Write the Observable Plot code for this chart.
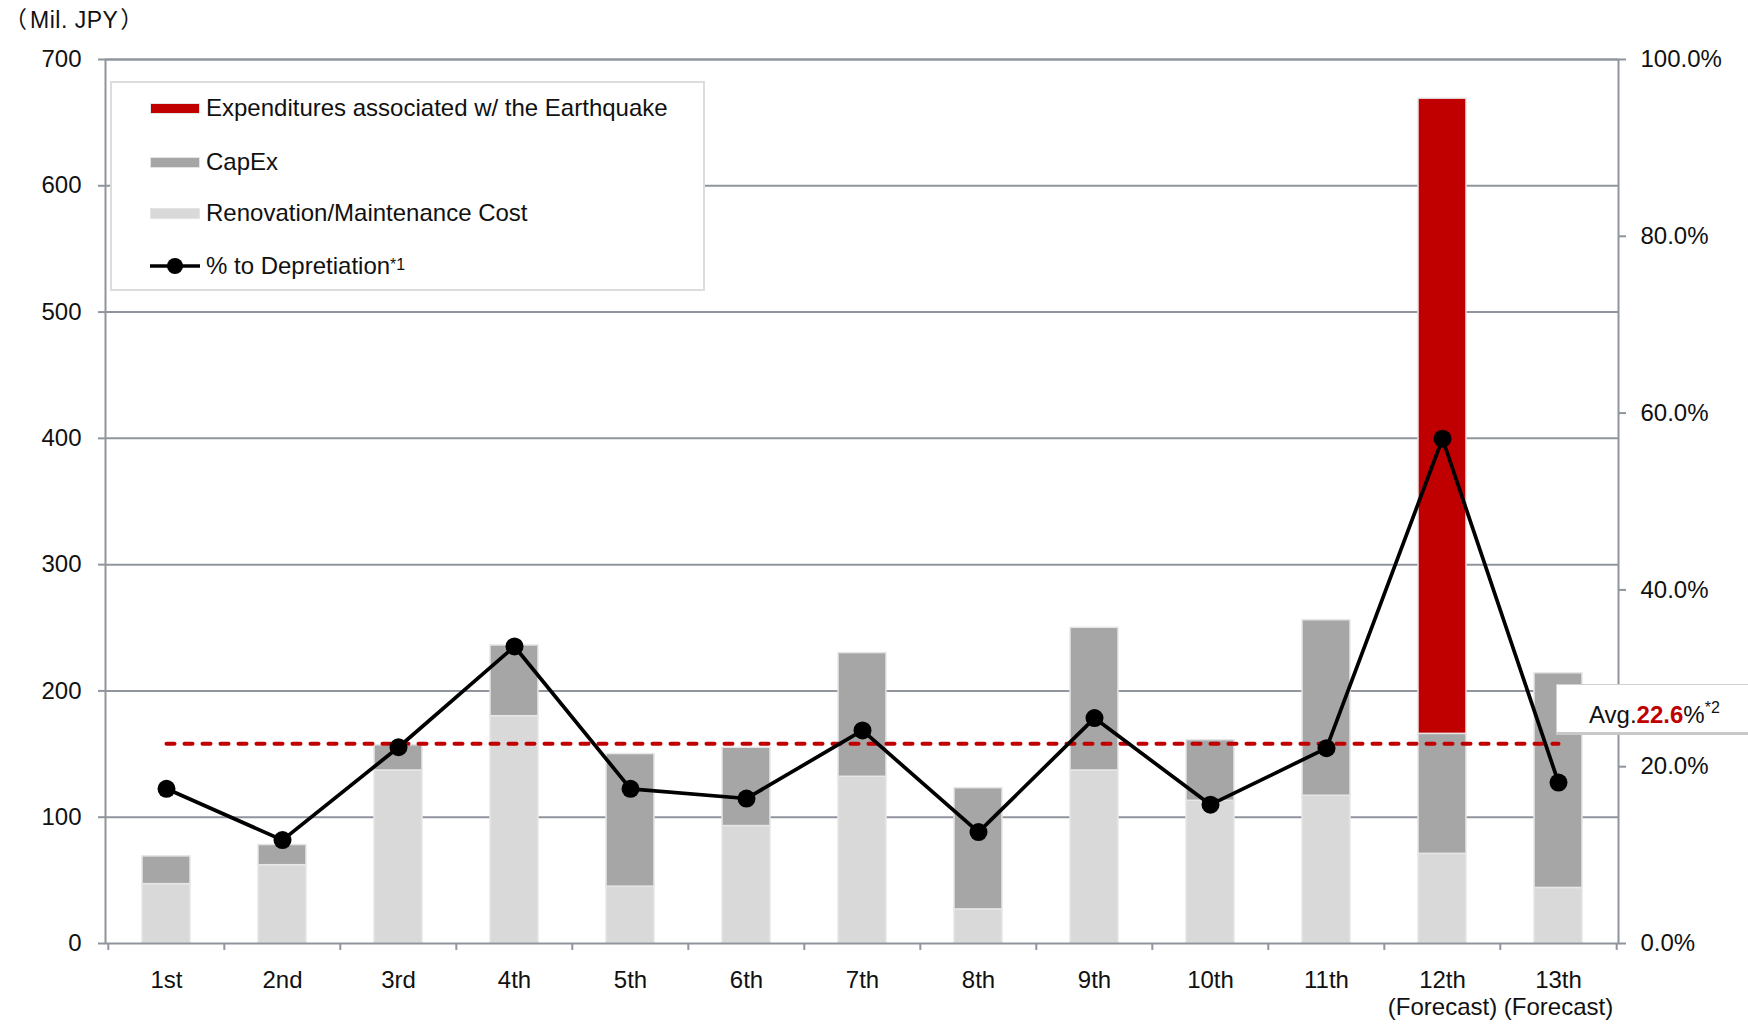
<!DOCTYPE html>
<html>
<head>
<meta charset="utf-8">
<script src="https://cdn.jsdelivr.net/npm/d3@7"></script>
<script src="https://cdn.jsdelivr.net/npm/@observablehq/plot@0.6"></script>
<style>
  html, body { margin: 0; padding: 0; background: #fff; }
  body { font-family: "Liberation Sans", Arial, sans-serif; color: #111; }
  #wrap { position: relative; width: 1748px; height: 1031px; overflow: hidden; }
  #unit { position: absolute; left: 4px; top: 7px; font-size: 23px; line-height: 1; white-space: nowrap; letter-spacing: 0.5px; }
  #unit .p { font-family: "Noto Sans CJK JP", sans-serif; letter-spacing: 0; }
  #unit .p1 { margin-right: 3px; }
  #unit .p2 { margin-left: 2px; }
  #legend { position: absolute; left: 110px; top: 81px; width: 591px; height: 206px;
            border: 2px solid #dcdcdc; background: #fff; }
  .item { position: absolute; left: 38px; height: 28px; display: flex; align-items: center; font-size: 24px; white-space: nowrap; }
  .sw { width: 50px; height: 11px; margin-right: 6px; box-sizing: border-box; border: 1px solid #e4e4e4; }
  #avg { position: absolute; left: 1556px; top: 684px; width: 200px; height: 51px; background: #fff;
         border: 1px solid #d0d0d0; border-bottom: 3px solid #c8c8c8; box-sizing: border-box;
         font-size: 24px; padding-left: 32px; line-height: 48px; white-space: nowrap; }
  #avg b { color: #c00000; }
  sup.s { font-size: 16px; position: relative; top: -1px; }
</style>
</head>
<body>
<div id="wrap"></div>
<script>
const categories = ["1st","2nd","3rd","4th","5th","6th","7th","8th","9th","10th","11th","12th\n(Forecast)","13th\n(Forecast)"];
const renovation = [47, 62, 137, 180, 45, 93, 132, 27, 137, 113, 117, 71, 44];
const capex      = [22, 16, 20, 56, 105, 62, 98, 96, 113, 48, 139, 95, 170];
const earthquake = [0, 0, 0, 0, 0, 0, 0, 0, 0, 0, 0, 503, 0];
const pctDepreciation = [17.5, 11.7, 22.2, 33.6, 17.5, 16.4, 24.1, 12.6, 25.5, 15.7, 22.1, 57.1, 18.2];
const avgPct = 22.6;
const leftTicks = [0, 100, 200, 300, 400, 500, 600, 700];
const rightTicks = [0, 20, 40, 60, 80, 100];
const seriesNames = ["Renovation/Maintenance Cost", "CapEx", "Expenditures associated w/ the Earthquake"];
const seriesColors = ["#d9d9d9", "#a6a6a6", "#c00000"];

const PCT_TO_Y = 7; // 100% on right axis spans the 0–700 left axis

const stacked = [];
categories.forEach((c, i) => {
  [renovation[i], capex[i], earthquake[i]].forEach((v, k) => {
    if (v > 0) stacked.push({cat: c, series: seriesNames[k], value: v});
  });
});
const lineData = categories.map((c, i) => ({cat: c, pct: pctDepreciation[i]}));
const avgData = [{cat: categories[0], pct: avgPct}, {cat: categories[categories.length - 1], pct: avgPct}];

const W = 1748, H = 1031;
const mL = 105, mR = 130, mT = 59, mB = 88;
const step = (W - mL - mR) / categories.length;
const gridColor = "#90949c";

const chart = Plot.plot({
  width: W, height: H,
  marginLeft: mL, marginRight: mR, marginTop: mT, marginBottom: mB,
  style: {fontFamily: "'Liberation Sans', Arial, sans-serif", fontSize: "24px", color: "#111", background: "transparent"},
  x: {type: "band", domain: categories, paddingInner: 0.59, paddingOuter: 0.295},
  y: {domain: [0, 700]},
  color: {domain: seriesNames, range: seriesColors},
  marks: [
    Plot.gridY(leftTicks.slice(1), {stroke: gridColor, strokeOpacity: 1, strokeWidth: 2}),
    Plot.barY(stacked, {x: "cat", y: "value", fill: "series", stroke: "#e6e6e6", strokeWidth: 1.5, order: seriesNames}),
    Plot.frame({stroke: gridColor, strokeWidth: 2}),
    Plot.ruleX(categories, {x: d => d, y1: 0, y2: -5.5, dx: -step / 2, stroke: gridColor, strokeWidth: 2}),
    Plot.ruleX([categories[categories.length - 1]], {x: d => d, y1: 0, y2: -5.5, dx: step / 2, stroke: gridColor, strokeWidth: 2}),
    Plot.axisY({ticks: leftTicks, tickSize: 7, tickPadding: 17, stroke: gridColor, strokeWidth: 2, label: null, tickFormat: d => d, fontSize: 24}),
    Plot.axisY({anchor: "right", ticks: rightTicks.map(t => t * PCT_TO_Y), tickSize: 7, tickPadding: 15, stroke: gridColor, strokeWidth: 2, label: null,
                tickFormat: d => (d / PCT_TO_Y).toFixed(1) + "%", fontSize: 24}),
    Plot.axisX({tickSize: 0, tickPadding: 26, label: null, lineHeight: 1.1, fontSize: 24}),
    Plot.line(avgData, {x: "cat", y: d => d.pct * PCT_TO_Y, stroke: "#c00000", strokeWidth: 4, strokeDasharray: "8,10", strokeLinecap: "round"}),
    Plot.line(lineData, {x: "cat", y: d => d.pct * PCT_TO_Y, stroke: "#000", strokeWidth: 3.7}),
    Plot.dot(lineData, {x: "cat", y: d => d.pct * PCT_TO_Y, r: 9, fill: "#000"})
  ]
});

const wrap = document.getElementById("wrap");
wrap.appendChild(chart);

const unit = document.createElement("div");
unit.id = "unit";
unit.innerHTML = '<span class="p p1">（</span>Mil. JPY<span class="p p2">）</span>';
wrap.appendChild(unit);

const legend = document.createElement("div");
legend.id = "legend";
const legendOrder = [2, 1, 0];
const itemTops = [11, 65, 116, 169];
legendOrder.forEach((k, j) => {
  const it = document.createElement("div");
  it.className = "item";
  it.style.top = itemTops[j] + "px";
  const sw = document.createElement("span");
  sw.className = "sw";
  sw.style.background = seriesColors[k];
  it.appendChild(sw);
  it.appendChild(document.createTextNode(seriesNames[k]));
  legend.appendChild(it);
});
const li = document.createElement("div");
li.className = "item";
li.style.top = itemTops[3] + "px";
li.innerHTML = '<svg width="50" height="20" style="margin-right:6px"><line x1="0" y1="10" x2="50" y2="10" stroke="#000" stroke-width="3.5"/><circle cx="25" cy="10" r="8" fill="#000"/></svg>% to Depretiation<sup class="s">*1</sup>';
legend.appendChild(li);
wrap.appendChild(legend);

const avg = document.createElement("div");
avg.id = "avg";
avg.innerHTML = 'Avg.<b>' + avgPct.toFixed(1) + '</b>%<sup class="s">*2</sup>';
wrap.appendChild(avg);
</script>
</body>
</html>
